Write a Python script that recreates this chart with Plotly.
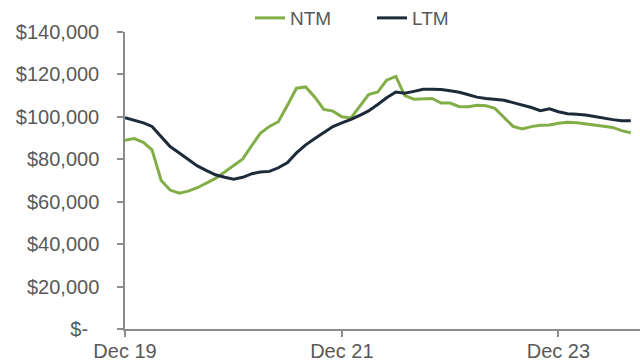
import pandas as pd
import plotly.graph_objects as go

# Monthly observations, Dec 2019 - Aug 2024
months = pd.date_range("2019-12-01", periods=57, freq="MS")

ntm = [
    89.0, 89.8, 88.0, 84.5, 70.0, 65.5, 64.0, 65.0, 66.6, 68.7,
    71.0, 74.0, 77.0, 80.2, 86.6, 92.2, 95.5, 97.7, 105.6, 113.5,
    114.1, 109.3, 103.5, 102.7, 100.0, 99.5, 105.3, 110.5, 111.7, 117.3,
    119.1, 110.0, 108.3, 108.5, 108.7, 106.5, 106.5, 104.8, 104.8, 105.5,
    105.2, 104.0, 99.5, 95.5, 94.3, 95.4, 96.0, 96.2, 97.0, 97.4,
    97.2, 96.8, 96.2, 95.6, 95.0, 93.5, 92.5,
]
ltm = [
    99.6, 98.5, 97.2, 95.5, 90.5, 86.0, 83.0, 80.0, 76.9, 74.7,
    72.7, 71.5, 70.6, 71.5, 73.2, 74.0, 74.3, 76.0, 78.5, 83.0,
    86.8, 89.8, 92.5, 95.4, 97.2, 98.8, 100.8, 102.8, 105.8, 109.0,
    111.7, 111.1, 112.0, 113.0, 113.0, 112.9, 112.3, 111.6, 110.4, 109.3,
    108.7, 108.4, 107.8, 106.7, 105.6, 104.4, 102.9, 103.8, 102.4, 101.5,
    101.2, 100.9, 100.2, 99.4, 98.7, 98.2, 98.2,
]

# values are in $ thousands
ntm_usd = [v * 1000 for v in ntm]
ltm_usd = [v * 1000 for v in ltm]

y_ticks = [0, 20000, 40000, 60000, 80000, 100000, 120000, 140000]
y_labels = ["$-\u00a0\u00a0", "$20,000", "$40,000", "$60,000", "$80,000",
            "$100,000", "$120,000", "$140,000"]
x_ticks = ["2019-12-01", "2021-12-01", "2023-12-01"]
x_labels = ["Dec 19", "Dec 21", "Dec 23"]

GREEN = "#82ae48"
NAVY = "#1c2a39"
TEXT = "#595959"
AXIS = "#8c8c8c"
FONT = "Liberation Sans, Arial, sans-serif"

fig = go.Figure()
fig.add_trace(go.Scatter(x=months, y=ntm_usd, name="NTM", mode="lines",
                         line=dict(color=GREEN, width=3)))
fig.add_trace(go.Scatter(x=months, y=ltm_usd, name="LTM", mode="lines",
                         line=dict(color=NAVY, width=3)))

fig.update_layout(
    width=640, height=362,
    margin=dict(l=125, r=0, t=32, b=33, autoexpand=False),
    paper_bgcolor="white", plot_bgcolor="white",
    font=dict(family=FONT, size=20, color=TEXT),
    showlegend=True,
    legend=dict(orientation="h", x=0.2427, y=1.047, xanchor="left", yanchor="middle",
                font=dict(size=19, color=TEXT), bgcolor="rgba(0,0,0,0)",
                entrywidth=77, entrywidthmode="pixels",
                itemwidth=30, tracegroupgap=0),
)
fig.update_xaxes(
    range=["2019-12-01", "2024-09-01"],
    tickvals=x_ticks, ticktext=x_labels,
    showgrid=False, zeroline=False,
    showline=True, linecolor=AXIS, linewidth=1.5,
    ticks="outside", ticklen=6, tickcolor=AXIS, tickwidth=1.5,
    ticklabelstandoff=-3,
)
fig.update_yaxes(
    range=[0, 140000],
    tickvals=y_ticks, ticktext=y_labels,
    showgrid=False, zeroline=False,
    showline=True, linecolor=AXIS, linewidth=1.5,
    ticks="outside", ticklen=6, tickcolor=AXIS, tickwidth=1.5,
    ticklabelstandoff=14,
)

fig.write_html("out.html")
